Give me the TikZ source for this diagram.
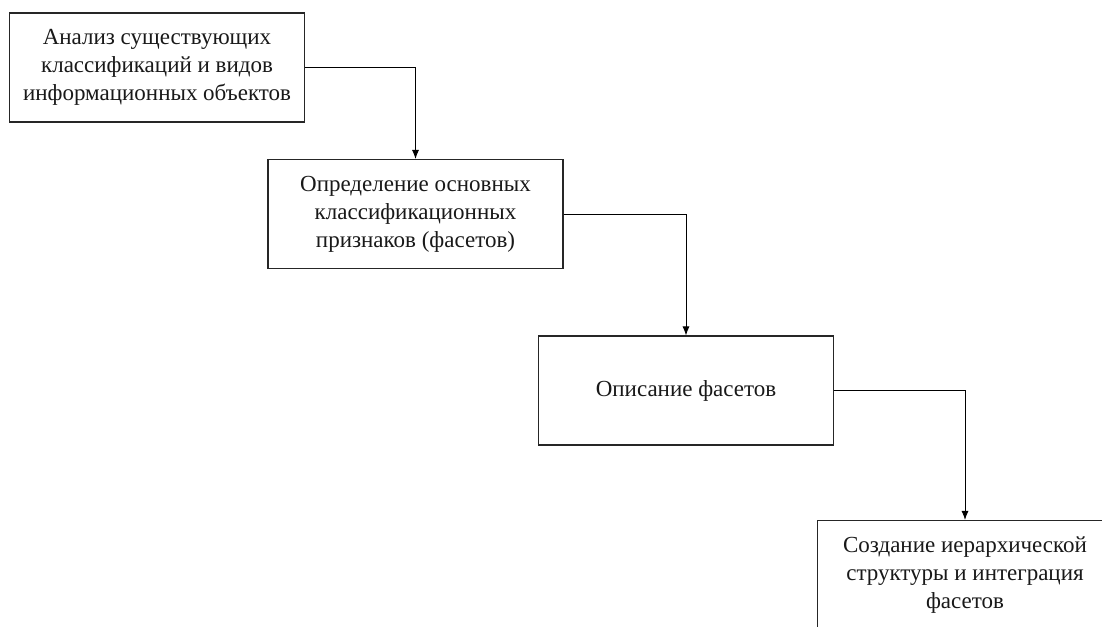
\documentclass[tikz,border=0pt]{standalone}
\usepackage{fontspec}
\setmainfont{Liberation Serif}
\usetikzlibrary{arrows.meta}
\begin{document}
\begin{tikzpicture}[x=1pt,y=1pt,
  stepbox/.style={draw=black!85, line width=1.1pt, minimum width=295pt, minimum height=109pt,
    align=center, inner sep=0pt, font=\fontsize{23}{28}\selectfont, text=black!90},
  conn/.style={draw=black, line width=0.9pt, -{Latex[length=9pt,width=7pt]}}]
\useasboundingbox (0,0) rectangle (1102,-626);
\clip (0,0) rectangle (1102,-626);
\fill[white] (0,0) rectangle (1102,-626);
\node[stepbox] (a) at (157,-67.5) {Анализ существующих\\классификаций и видов\\информационных объектов};
\node[stepbox] (b) at (415.5,-214) {Определение основных\\классификационных\\признаков (фасетов)};
\node[stepbox] (c) at (686,-390.5) {Описание фасетов};
\node[stepbox] (d) at (965,-575) {Создание иерархической\\структуры и интеграция\\фасетов};
\draw[conn] (a.east) -| (b.north);
\draw[conn] (b.east) -| (c.north);
\draw[conn] (c.east) -| (d.north);
\end{tikzpicture}
\end{document}
